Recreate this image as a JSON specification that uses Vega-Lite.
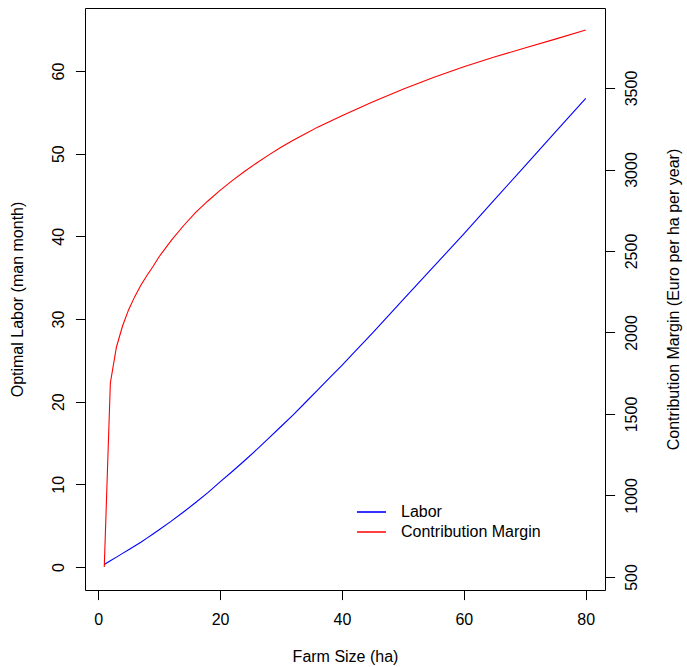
{
  "$schema": "https://vega.github.io/schema/vega-lite/v6.json",
  "width": 520,
  "height": 582,
  "autosize": {"type": "none"},
  "padding": {"left": 85, "top": 8, "right": 82, "bottom": 77},
  "background": "white",
  "config": {
    "font": "Liberation Sans",
    "view": {"stroke": "#000000", "strokeWidth": 1},
    "axis": {
      "labelFont": "Liberation Sans",
      "labelFontSize": 16,
      "labelColor": "#000000",
      "titleFont": "Liberation Sans",
      "titleFontSize": 16,
      "titleFontWeight": "normal",
      "titleColor": "#000000",
      "tickColor": "#000000",
      "tickSize": 9.6,
      "tickWidth": 1,
      "grid": false,
      "domain": false,
      "labelFlush": false,
      "labelOverlap": false
    }
  },
  "data": {
    "values": [
      {"ha": 1, "labor": 0.3, "cm": 561},
      {"ha": 2, "labor": 0.75, "cm": 1690},
      {"ha": 3, "labor": 1.2, "cm": 1911},
      {"ha": 4, "labor": 1.65, "cm": 2040},
      {"ha": 5, "labor": 2.1, "cm": 2140},
      {"ha": 6, "labor": 2.55, "cm": 2220},
      {"ha": 7, "labor": 3.0, "cm": 2290},
      {"ha": 8, "labor": 3.5, "cm": 2350},
      {"ha": 9, "labor": 4.0, "cm": 2405},
      {"ha": 10, "labor": 4.5, "cm": 2465},
      {"ha": 12, "labor": 5.55, "cm": 2565},
      {"ha": 14, "labor": 6.65, "cm": 2655},
      {"ha": 16, "labor": 7.8, "cm": 2737},
      {"ha": 18, "labor": 9.0, "cm": 2807},
      {"ha": 20, "labor": 10.3, "cm": 2872},
      {"ha": 22, "labor": 11.55, "cm": 2932},
      {"ha": 24, "labor": 12.85, "cm": 2988},
      {"ha": 26, "labor": 14.2, "cm": 3040},
      {"ha": 28, "labor": 15.6, "cm": 3090},
      {"ha": 30, "labor": 17.0, "cm": 3137},
      {"ha": 32, "labor": 18.4, "cm": 3180},
      {"ha": 34, "labor": 19.9, "cm": 3220},
      {"ha": 36, "labor": 21.4, "cm": 3260},
      {"ha": 38, "labor": 22.9, "cm": 3295},
      {"ha": 40, "labor": 24.4, "cm": 3330},
      {"ha": 42, "labor": 25.95, "cm": 3364},
      {"ha": 45, "labor": 28.3, "cm": 3414},
      {"ha": 50, "labor": 32.3, "cm": 3493},
      {"ha": 55, "labor": 36.3, "cm": 3565},
      {"ha": 60, "labor": 40.3, "cm": 3630},
      {"ha": 65, "labor": 44.4, "cm": 3690},
      {"ha": 70, "labor": 48.5, "cm": 3745},
      {"ha": 75, "labor": 52.6, "cm": 3800},
      {"ha": 80, "labor": 56.7, "cm": 3856}
    ]
  },
  "layer": [
    {
      "mark": {"type": "line", "strokeWidth": 1.1, "clip": false},
      "encoding": {
        "x": {
          "field": "ha",
          "type": "quantitative",
          "title": "Farm Size (ha)",
          "scale": {"domain": [-2.16, 83.16], "nice": false, "zero": false},
          "axis": {
            "values": [0, 20, 40, 60, 80],
            "labelPadding": 12,
            "labelBaseline": "top",
            "titleBaseline": "top",
            "titleY": 58,
            "titleX": 260
          }
        },
        "y": {
          "field": "labor",
          "type": "quantitative",
          "title": "Optimal Labor (man month)",
          "scale": {"domain": [-2.78, 67.62], "nice": false, "zero": false},
          "axis": {
            "orient": "left",
            "values": [0, 10, 20, 30, 40, 50, 60],
            "labelAngle": -90,
            "labelAlign": "center",
            "labelBaseline": "bottom",
            "labelPadding": 9,
            "titleAngle": -90,
            "titleAlign": "center",
            "titleBaseline": "bottom",
            "titleX": -60,
            "titleY": 291
          }
        },
        "color": {
          "datum": "Labor",
          "type": "nominal",
          "scale": {"domain": ["Labor", "Contribution Margin"], "range": ["#0000FF", "#FF0000"]},
          "legend": {
            "orient": "none",
            "legendX": 271,
            "legendY": 494,
            "title": null,
            "symbolType": "stroke",
            "symbolSize": 841,
            "symbolStrokeWidth": 1.6,
            "labelFont": "Liberation Sans",
            "labelFontSize": 16,
            "labelColor": "#000000",
            "labelOffset": 14,
            "clipHeight": 20,
            "rowPadding": 0,
            "padding": 0
          }
        }
      }
    },
    {
      "mark": {"type": "line", "strokeWidth": 1.1, "clip": false},
      "encoding": {
        "x": {"field": "ha", "type": "quantitative"},
        "y": {
          "field": "cm",
          "type": "quantitative",
          "title": "Contribution Margin (Euro per ha per year)",
          "scale": {"domain": [420, 3991], "nice": false, "zero": false},
          "axis": {
            "orient": "right",
            "values": [500, 1000, 1500, 2000, 2500, 3000, 3500],
            "format": "d",
            "labelAngle": -90,
            "labelAlign": "center",
            "labelBaseline": "top",
            "labelPadding": 9,
            "titleAngle": -90,
            "titleAlign": "center",
            "titleBaseline": "top",
            "titleX": 60,
            "titleY": 291
          }
        },
        "color": {"datum": "Contribution Margin", "type": "nominal"}
      }
    }
  ],
  "resolve": {"scale": {"y": "independent"}}
}
